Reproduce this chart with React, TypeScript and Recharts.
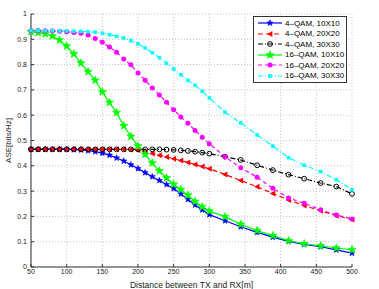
import {
  LineChart,
  Line,
  XAxis,
  YAxis,
  CartesianGrid,
  Legend,
} from 'recharts';

document.body.style.margin = '0';

// distance between TX and RX in metres
const distances = [
  50, 60, 70, 80, 90, 100, 110, 120, 130, 140, 150, 160, 170, 180, 190, 200, 210, 220,
  230, 240, 250, 260, 270, 280, 290, 300, 322, 344, 367, 389, 411, 433, 456, 478, 500,
];

const qam4_10 = [
  0.465, 0.465, 0.465, 0.465, 0.465, 0.465, 0.464, 0.463, 0.46, 0.456, 0.45, 0.442,
  0.431, 0.419, 0.404, 0.389, 0.373, 0.357, 0.342, 0.326, 0.31, 0.289, 0.267, 0.245,
  0.226, 0.207, 0.183, 0.159, 0.137, 0.118, 0.101, 0.089, 0.08, 0.068, 0.055,
];
const qam4_20 = [
  0.465, 0.465, 0.465, 0.465, 0.465, 0.465, 0.465, 0.465, 0.465, 0.465, 0.465, 0.465,
  0.465, 0.465, 0.464, 0.462, 0.456, 0.449, 0.442, 0.435, 0.428, 0.421, 0.413, 0.405,
  0.397, 0.388, 0.366, 0.342, 0.317, 0.291, 0.265, 0.243, 0.222, 0.203, 0.188,
];
const qam4_30 = [
  0.465, 0.465, 0.465, 0.465, 0.465, 0.465, 0.465, 0.465, 0.465, 0.465, 0.465, 0.465,
  0.465, 0.465, 0.465, 0.465, 0.465, 0.465, 0.465, 0.464, 0.463, 0.461, 0.459, 0.456,
  0.452, 0.448, 0.436, 0.423, 0.402, 0.383, 0.365, 0.349, 0.332, 0.318, 0.289,
];
const qam16_10 = [
  0.93, 0.926, 0.922, 0.913, 0.897, 0.873, 0.842, 0.806, 0.772, 0.738, 0.692, 0.65,
  0.61, 0.558, 0.516, 0.478, 0.445, 0.411, 0.38, 0.352, 0.327, 0.306, 0.284, 0.259,
  0.238, 0.221, 0.199, 0.169, 0.144, 0.124, 0.104, 0.092, 0.084, 0.075, 0.068,
];
const qam16_20 = [
  0.935, 0.935, 0.934, 0.933, 0.932, 0.93, 0.927, 0.924, 0.917, 0.903, 0.888, 0.87,
  0.849, 0.822, 0.799, 0.767, 0.738, 0.708, 0.68, 0.651, 0.622, 0.593, 0.568, 0.54,
  0.513, 0.487, 0.436, 0.392, 0.355, 0.311, 0.273, 0.252, 0.226, 0.206, 0.19,
];
const qam16_30 = [
  0.935, 0.935, 0.934, 0.934, 0.933, 0.933, 0.932, 0.931, 0.93, 0.928, 0.924, 0.918,
  0.912, 0.905, 0.895, 0.882, 0.866, 0.847, 0.827, 0.805, 0.783, 0.76, 0.738, 0.718,
  0.695, 0.668, 0.612, 0.57, 0.522, 0.478, 0.432, 0.402, 0.377, 0.345, 0.305,
];

const xTicks = [50, 100, 150, 200, 250, 300, 350, 400, 450, 500];
const yTicks = [0, 0.1, 0.2, 0.3, 0.4, 0.5, 0.6, 0.7, 0.8, 0.9, 1];

const data = distances.map((d, i) => ({
  d,
  a: qam4_10[i],
  b: qam4_20[i],
  c: qam4_30[i],
  e: qam16_10[i],
  f: qam16_20[i],
  g: qam16_30[i],
}));

type Kind = 'star' | 'tri' | 'ring' | 'dot' | 'square';

const starPath = (cx: number, cy: number, R: number) => {
  const r = R * 0.42;
  let p = '';
  for (let k = 0; k < 10; k++) {
    const rad = k % 2 === 0 ? R : r;
    const a = -Math.PI / 2 + (k * Math.PI) / 5;
    p += (k === 0 ? 'M' : 'L') + (cx + rad * Math.cos(a)).toFixed(2) + ',' + (cy + rad * Math.sin(a)).toFixed(2);
  }
  return p + 'Z';
};

const Marker = ({ cx, cy, kind, color, size }: { cx: number; cy: number; kind: Kind; color: string; size: number }) => {
  if (cx == null || cy == null) return null;
  switch (kind) {
    case 'star':
      return <path d={starPath(cx, cy, size)} fill={color} stroke={color} strokeWidth={0.6} />;
    case 'tri':
      return (
        <path
          d={`M${cx - size},${cy}L${cx + size * 0.8},${cy - size}L${cx + size * 0.8},${cy + size}Z`}
          fill={color}
        />
      );
    case 'ring':
      return <circle cx={cx} cy={cy} r={size} fill="none" stroke={color} strokeWidth={1} />;
    case 'dot':
      return <circle cx={cx} cy={cy} r={size} fill={color} />;
    default:
      return <rect x={cx - size} y={cy - size} width={size * 2} height={size * 2} fill={color} />;
  }
};

const series = [
  { key: 'a', name: '4–QAM, 10X10', color: '#0000ff', dash: undefined, kind: 'star' as Kind, size: 3.2 },
  { key: 'b', name: '4–QAM, 20X20', color: '#ff0000', dash: '5 3', kind: 'tri' as Kind, size: 3 },
  { key: 'c', name: '4–QAM, 30X30', color: '#000000', dash: '5 2 1 2', kind: 'ring' as Kind, size: 2.4 },
  { key: 'e', name: '16–QAM, 10X10', color: '#00ff00', dash: undefined, kind: 'star' as Kind, size: 4.3 },
  { key: 'f', name: '16–QAM, 20X20', color: '#ff00ff', dash: '4 3', kind: 'dot' as Kind, size: 2.5 },
  { key: 'g', name: '16–QAM, 30X30', color: '#00ffff', dash: '5 2 1 2', kind: 'square' as Kind, size: 1.8 },
];

const LegendBox = () => (
  <div
    style={{
      width: 92,
      border: '1px solid #333',
      background: '#fff',
      fontFamily: 'Liberation Sans, Arial, sans-serif',
      fontSize: 8,
      padding: '1px 0',
    }}
  >
    {series.map((s) => (
      <div key={s.key} style={{ display: 'flex', alignItems: 'center', height: 10.5 }}>
        <svg width={27} height={10} style={{ flex: 'none', marginLeft: 3 }}>
          <line x1={1} y1={5} x2={25} y2={5} stroke={s.color} strokeWidth={1.2} strokeDasharray={s.dash} />
          <Marker cx={13} cy={5} kind={s.kind} color={s.color} size={s.size} />
        </svg>
        <span style={{ marginLeft: 1, whiteSpace: 'nowrap' }}>{s.name}</span>
      </div>
    ))}
  </div>
);

const tickStyle = { fontSize: 7, fill: '#222', fontFamily: 'Liberation Sans, Arial, sans-serif' };

export default function App() {
  return (
    <LineChart width={379} height={289} data={data} margin={{ top: 14, right: 27, bottom: 0, left: 0 }}>
      <CartesianGrid stroke="#c4c4c4" strokeDasharray="1 2" />
      <XAxis
        dataKey="d"
        type="number"
        domain={[50, 500]}
        ticks={xTicks}
        height={22}
        tickSize={-3}
        tickMargin={5}
        stroke="#333"
        tick={tickStyle}
        label={{
          value: 'Distance between TX and RX[m]',
          position: 'insideBottom',
          offset: 1,
          style: { fontSize: 8.5, fill: '#222', fontFamily: 'Liberation Sans, Arial, sans-serif' },
        }}
      />
      <XAxis xAxisId="top" orientation="top" type="number" domain={[50, 500]} ticks={xTicks} height={0} tick={false} tickSize={-3} stroke="#333" />
      <YAxis
        type="number"
        domain={[0, 1]}
        ticks={yTicks}
        width={31}
        tickSize={-3}
        tickMargin={7}
        stroke="#333"
        tick={tickStyle}
        tickFormatter={(v: number) => (v === 0 || v === 1 ? String(v) : v.toFixed(1))}
        label={{
          value: 'ASE[bits/Hz]',
          angle: -90,
          position: 'insideLeft',
          offset: 8,
          style: { textAnchor: 'middle', fontSize: 8, fill: '#222', fontFamily: 'Liberation Sans, Arial, sans-serif' },
        }}
      />
      <YAxis yAxisId="right" orientation="right" type="number" domain={[0, 1]} ticks={yTicks} width={0} tick={false} tickSize={-3} stroke="#333" />
      {series.map((s) => (
        <Line
          key={s.key}
          dataKey={s.key}
          name={s.name}
          type="linear"
          stroke={s.color}
          strokeWidth={1.2}
          strokeDasharray={s.dash}
          isAnimationActive={false}
          dot={(p: any) => <Marker key={p.index} cx={p.cx} cy={p.cy} kind={s.kind} color={s.color} size={s.size} />}
          activeDot={false}
        />
      ))}
      <Legend
        layout="vertical"
        align="center"
        verticalAlign="middle"
        content={() => <LegendBox />}
        wrapperStyle={{ top: 16, left: 253, width: 94 }}
      />
    </LineChart>
  );
}
